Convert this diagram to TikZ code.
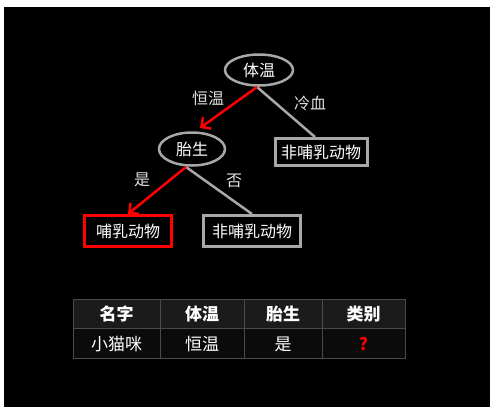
\documentclass[tikz,border=0pt]{standalone}
\usepackage{fontspec}
\setmainfont{Noto Sans CJK SC}
\usetikzlibrary{shapes.geometric,arrows.meta}
\definecolor{edgegray}{HTML}{A8A8A8}
\definecolor{gridgray}{HTML}{4A4A4A}
\definecolor{headbg}{HTML}{1B1B1B}
\definecolor{bodybg}{HTML}{0B0B0B}
\begin{document}
\begin{tikzpicture}[x=1pt,y=-1pt,
  txt/.style={text=white,font=\fontsize{16}{16}\selectfont,inner sep=0pt},
  decision/.style={ellipse,draw=edgegray,line width=2.5pt,fill=black,minimum width=68pt,minimum height=31pt,txt},
  leaf/.style={rectangle,draw=edgegray,line width=3pt,fill=black,minimum width=93pt,minimum height=31pt,txt},
  redleaf/.style={leaf,draw=red},
  edgeline/.style={draw=edgegray,line width=2.5pt},
  redarrow/.style={draw=red,line width=2.5pt,-{Straight Barb[length=7pt,width=14pt,line width=2.5pt]}},
  elabel/.style={txt,text=white!88!black},
  cellh/.style={txt,font=\fontsize{17}{17}\selectfont\bfseries},
  cellb/.style={txt,font=\fontsize{17}{17}\selectfont}
]
\useasboundingbox (0,0) rectangle (494,416);
\fill[white] (0,0) rectangle (494,416);
\fill[black] (4,7) rectangle (490,407);

% nodes
\node[decision] (root) at (259,70) {体温};
\node[decision,minimum width=66pt,minimum height=33pt] (tai) at (192,149) {胎生};
\node[leaf,minimum width=92pt,minimum height=27pt] (nonA) at (321,152) {非哺乳动物};
\node[redleaf,minimum width=87pt,minimum height=31pt] (mam) at (128,231) {哺乳动物};
\node[leaf,minimum width=97pt,minimum height=31pt] (nonB) at (252,231) {非哺乳动物};

\coordinate (rootb) at (257,87);
\coordinate (taib) at (186,167);

% edges
\draw[edgeline] (rootb) -- (nonA.north -| 315,0);
\draw[redarrow] (rootb) -- (200,128);
\draw[edgeline] (taib) -- (nonB.north);
\draw[redarrow] (taib) -- (mam.north);

% edge labels
\node[elabel] (l1) at (208,98) {恒温};
\node[elabel] (l2) at (310,103) {冷血};
\node[elabel] (l3) at (142,180) {是};
\node[elabel] (l4) at (234,181) {否};

% table
\fill[headbg] (73,299) rectangle (405,328);
\fill[bodybg] (73,328) rectangle (405,358);
\draw[gridgray,line width=1pt] (73,299) rectangle (405,358);
\draw[gridgray,line width=1pt] (73,328) -- (405,328);
\foreach \xx in {160,244,322} \draw[gridgray,line width=1pt] (\xx,299) -- (\xx,358);

\node[cellh] (h1) at (116.5,314) {名字};
\node[cellh] (h2) at (202,314) {体温};
\node[cellh] (h3) at (283,314) {胎生};
\node[cellh] (h4) at (363.5,314) {类别};
\node[cellb] (b1) at (116.5,344) {小猫咪};
\node[cellb] (b2) at (202,344) {恒温};
\node[cellb] (b3) at (283,344) {是};
\node[cellh,text=red] (b4) at (363.5,344) {?};
\end{tikzpicture}
\end{document}
